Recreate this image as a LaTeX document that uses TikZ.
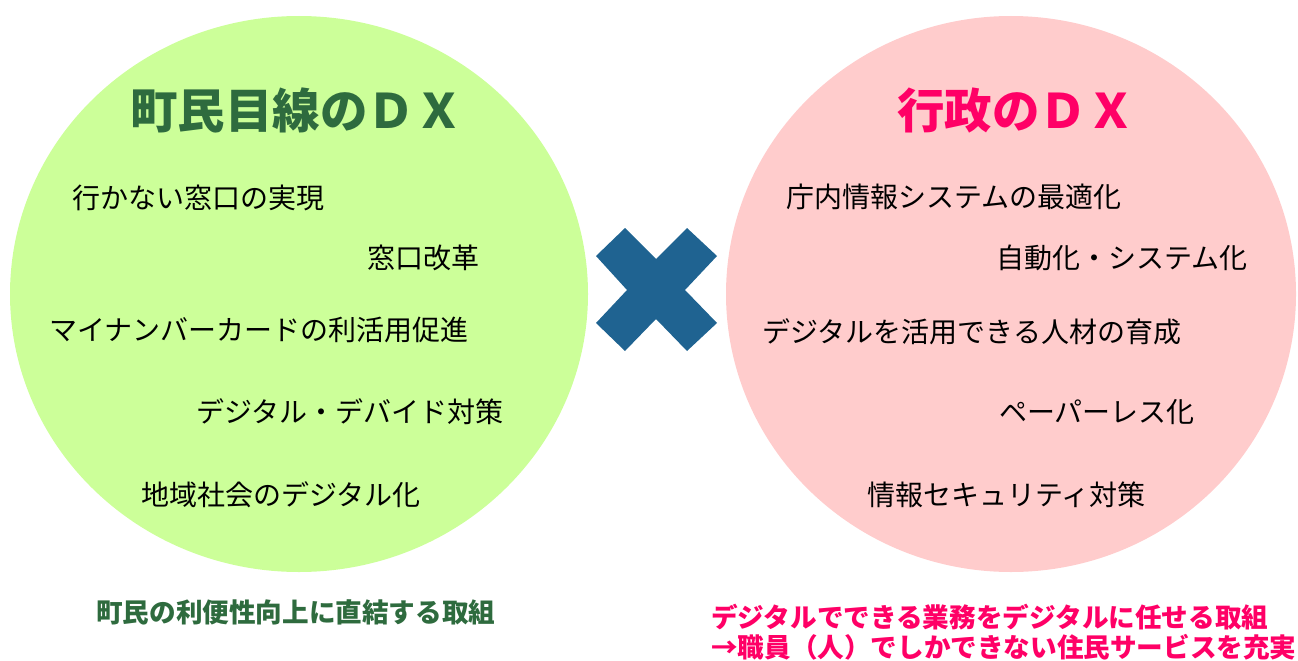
\documentclass[tikz,border=0pt]{standalone}
\usepackage{fontspec}
\newfontfamily\jp{Noto Sans CJK JP}
\definecolor{lgreen}{RGB}{204,255,153}
\definecolor{lpink}{RGB}{255,204,204}
\definecolor{dgreen}{RGB}{46,107,62}
\definecolor{hpink}{RGB}{255,0,102}
\definecolor{xblue}{RGB}{31,99,145}
\tikzset{
  item/.style={anchor=west, inner sep=0pt, font=\jp\fontsize{28}{30}\selectfont, text=black},
  ttl/.style={anchor=west, inner sep=0pt, font=\jp\bfseries\fontsize{47.5}{50}\selectfont},
  note/.style={anchor=west, inner sep=0pt, font=\jp\bfseries\fontsize{26.6}{30}\selectfont},
}
\begin{document}
\begin{tikzpicture}[x=1pt,y=-1pt]
\useasboundingbox (0,0) rectangle (1298,661);
\fill[lgreen] (299,294) ellipse [x radius=289, y radius=278];
\fill[lpink] (1011,294) ellipse [x radius=285, y radius=278];
\fill[xblue] (596,256) -- (625,228) -- (656,259) -- (687,228) -- (717,256) -- (685,290) -- (717,323) -- (687,351) -- (656,319) -- (625,351) -- (596,323) -- (627,290) -- cycle;
\node[ttl, text=dgreen] (t1) at (130,110) {町民目線のＤＸ};
\node[ttl, text=hpink] (t2) at (897,110) {行政のＤＸ};
\node[item] (l1) at (72,198) {行かない窓口の実現};
\node[item] (l2) at (367,258) {窓口改革};
\node[item] (l3) at (49,330) {マイナンバーカードの利活用促進};
\node[item] (l4) at (196,412) {デジタル・デバイド対策};
\node[item] (l5) at (141,495) {地域社会のデジタル化};
\node[item] (r1) at (786,197) {庁内情報システムの最適化};
\node[item] (r2) at (996,258) {自動化・システム化};
\node[item] (r3) at (762,332) {デジタルを活用できる人材の育成};
\node[item] (r4) at (999,412) {ペーパーレス化};
\node[item] (r5) at (867,495) {情報セキュリティ対策};
\node[note, text=dgreen] (n1) at (96,612) {町民の利便性向上に直結する取組};
\node[note, text=hpink] (n2) at (711,617) {デジタルでできる業務をデジタルに任せる取組};
\node[note, text=hpink] (n3) at (711,647) {→職員（人）でしかできない住民サービスを充実};
\end{tikzpicture}
\end{document}
